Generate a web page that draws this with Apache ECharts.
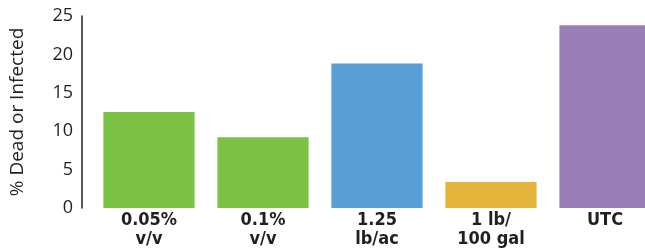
<!DOCTYPE html>
<html>
<head>
<meta charset="utf-8">
<script src="https://cdn.jsdelivr.net/npm/echarts@6/dist/echarts.min.js"></script>
<style>
  html, body { margin: 0; padding: 0; background: #fff; }
  #chart { width: 645px; height: 248px; }
</style>
</head>
<body>
<div id="chart"></div>
<script>
var categories = ['0.05%\nv/v', '0.1%\nv/v', '1.25\nlb/ac', '1 lb/\n100 gal', 'UTC'];
var values = [12.5, 9.2, 18.8, 3.4, 23.8];
var barColors = ['#7bc143', '#7bc143', '#579fd6', '#e3b53a', '#9b7db8'];
var yTicks = [0, 5, 10, 15, 20, 25];

var chart = echarts.init(document.getElementById('chart'), null, { renderer: 'canvas' });

var option = {
  animation: false,
  grid: { left: 92, width: 570, top: 16, bottom: 40, outerBoundsMode: 'none', containLabel: false },
  xAxis: {
    type: 'category',
    data: categories,
    axisLine: { show: false },
    axisTick: { show: false },
    axisLabel: {
      color: '#231f20',
      fontFamily: 'DejaVu Sans Condensed',
      fontWeight: 'bold',
      fontSize: 18,
      lineHeight: 19,
      margin: 3,
      interval: 0
    }
  },
  yAxis: {
    type: 'value',
    min: yTicks[0],
    max: yTicks[yTicks.length - 1],
    interval: 5,
    offset: 10,
    name: '% Dead or Infected',
    nameLocation: 'middle',
    nameGap: 55,
    nameTextStyle: { color: '#231f20', fontFamily: 'Open Sans', fontSize: 19 },
    axisLine: { show: true, lineStyle: { color: '#231f20', width: 1.5 } },
    axisTick: { show: false },
    splitLine: { show: false },
    axisLabel: { color: '#231f20', fontFamily: 'Open Sans', fontSize: 18, margin: 9 }
  },
  series: [{
    type: 'bar',
    data: values.map(function (v, i) {
      return { value: v, itemStyle: { color: barColors[i] } };
    }),
    barCategoryGap: '20%'
  }]
};

chart.setOption(option);
</script>
</body>
</html>
